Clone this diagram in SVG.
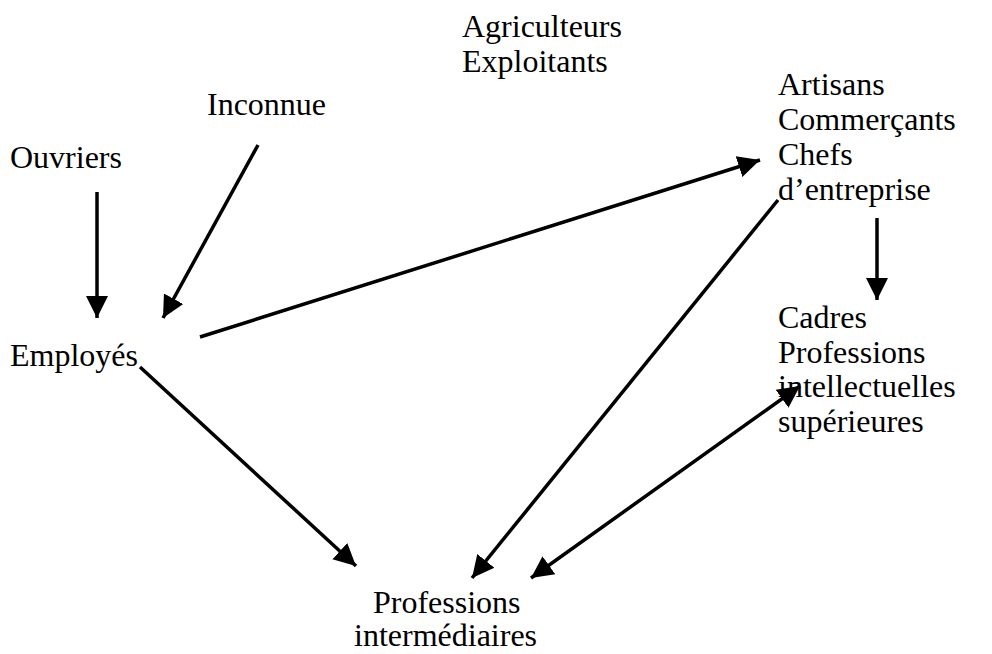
<svg xmlns="http://www.w3.org/2000/svg" width="992" height="654" viewBox="0 0 992 654">
<style>
text{font-family:"Liberation Serif","Times New Roman",serif;font-size:32px;fill:#000}
.c line{stroke:#000;stroke-width:3.5}
</style>
<defs>
<marker id="ah" markerUnits="userSpaceOnUse" markerWidth="26" markerHeight="26" refX="22" refY="11" orient="auto-start-reverse" viewBox="0 0 26 22">
<path d="M0,0 L22,11 L0,22 Z" fill="#000"/>
</marker>
</defs>
<rect width="992" height="654" fill="#fff"/>
<g id="agriculteurs"><text x="462" y="37">Agriculteurs</text><text x="462" y="72">Exploitants</text></g>
<g id="inconnue"><text x="207" y="115">Inconnue</text></g>
<g id="ouvriers"><text x="10" y="168">Ouvriers</text></g>
<g id="employes"><text x="10" y="366">Employés</text></g>
<g id="artisans"><text x="778" y="95">Artisans</text><text x="778" y="130">Commerçants</text><text x="778" y="165">Chefs</text><text x="778" y="200">d’entreprise</text></g>
<g id="cadres"><text x="778" y="328">Cadres</text><text x="778" y="363">Professions</text><text x="778" y="397">intellectuelles</text><text x="778" y="432">supérieures</text></g>
<g id="intermediaires"><text x="373" y="613">Professions</text><text x="354" y="646">intermédiaires</text></g>
<g class="c" id="connectors">
<line x1="97" y1="192" x2="97" y2="318" marker-end="url(#ah)"/>
<line x1="258" y1="145" x2="163" y2="318" marker-end="url(#ah)"/>
<line x1="200" y1="337" x2="760" y2="160" marker-end="url(#ah)"/>
<line x1="778" y1="200" x2="472" y2="578" marker-end="url(#ah)"/>
<line x1="877" y1="218" x2="877" y2="300" marker-end="url(#ah)"/>
<line x1="531" y1="578" x2="800" y2="386" marker-start="url(#ah)" marker-end="url(#ah)"/>
<line x1="140" y1="367" x2="356" y2="566" marker-end="url(#ah)"/>
</g>
</svg>
